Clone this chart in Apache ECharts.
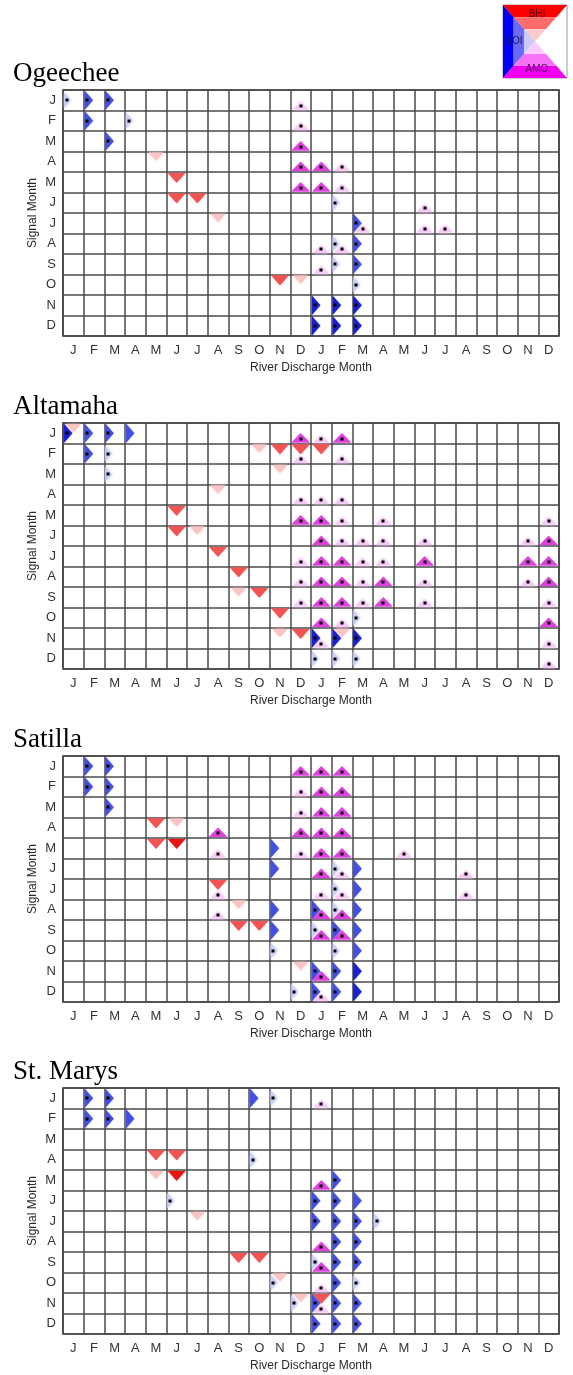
<!DOCTYPE html>
<html>
<head>
<meta charset="utf-8">
<script src="https://cdn.jsdelivr.net/npm/echarts@6/dist/echarts.min.js"></script>
<style>
  html, body { margin: 0; padding: 0; background: #fff; }
  #chart { width: 573px; height: 1375px; }
</style>
</head>
<body>
<div id="chart"></div>
<script>
// month labels
var MONTHS = ['J','F','M','A','M','J','J','A','S','O','N','D'];
var dischargeMonths = MONTHS.concat(MONTHS); // two years of river discharge
var signalMonths = MONTHS;

// index types
var BHI = 0, SOI = 1, AMO = 2;

// each mark: [discharge month index, signal month index, index, strength 1-3, significant dot]
var ogeechee = [
  [0,0,SOI,1,1],[1,0,SOI,2,1],[2,0,SOI,2,1],[11,0,AMO,1,1],
  [1,1,SOI,2,1],[3,1,SOI,1,1],[11,1,AMO,1,1],
  [2,2,SOI,2,1],[11,2,AMO,2,1],
  [4,3,BHI,1,0],[11,3,AMO,2,1],[12,3,AMO,2,1],[13,3,AMO,1,1],
  [5,4,BHI,2,0],[11,4,AMO,2,1],[12,4,AMO,2,1],[13,4,AMO,1,1],
  [5,5,BHI,2,0],[6,5,BHI,2,0],[13,5,SOI,1,1],[17,5,AMO,1,1],
  [7,6,BHI,1,0],[14,6,SOI,2,1],[14,6,AMO,1,1],[17,6,AMO,1,1],[18,6,AMO,1,1],
  [12,7,AMO,1,1],[13,7,SOI,1,1],[13,7,AMO,1,1],[14,7,SOI,2,1],
  [12,8,AMO,1,1],[13,8,SOI,1,1],[14,8,SOI,2,1],
  [10,9,BHI,2,0],[11,9,BHI,1,0],[14,9,SOI,1,1],
  [12,10,SOI,3,1],[13,10,SOI,3,1],[14,10,SOI,3,1],
  [12,11,SOI,3,1],[13,11,SOI,3,1],[14,11,SOI,3,1]
];

var altamaha = [
  [0,0,SOI,3,1],[0,0,BHI,1,0],[1,0,SOI,2,1],[2,0,SOI,2,1],[3,0,SOI,2,0],[11,0,AMO,2,1],[12,0,AMO,1,1],[13,0,AMO,2,1],
  [1,1,SOI,2,1],[2,1,SOI,1,1],[9,1,BHI,1,0],[10,1,BHI,2,0],[11,1,BHI,2,0],[11,1,AMO,1,1],[12,1,BHI,2,0],[13,1,AMO,1,1],
  [2,2,SOI,1,1],[10,2,BHI,1,0],
  [7,3,BHI,1,0],[11,3,AMO,1,1],[12,3,AMO,1,1],[13,3,AMO,1,1],
  [5,4,BHI,2,0],[11,4,AMO,2,1],[12,4,AMO,2,1],[13,4,AMO,1,1],[15,4,AMO,1,1],[23,4,AMO,1,1],
  [5,5,BHI,2,0],[6,5,BHI,1,0],[12,5,AMO,2,1],[13,5,AMO,1,1],[14,5,AMO,1,1],[15,5,AMO,1,1],[17,5,AMO,1,1],[22,5,AMO,1,1],[23,5,AMO,2,1],
  [7,6,BHI,2,0],[11,6,AMO,1,1],[12,6,AMO,2,1],[13,6,AMO,2,1],[14,6,AMO,1,1],[15,6,AMO,1,1],[17,6,AMO,2,1],[22,6,AMO,2,1],[23,6,AMO,2,1],
  [8,7,BHI,2,0],[11,7,AMO,1,1],[12,7,AMO,2,1],[13,7,AMO,2,1],[14,7,AMO,1,1],[15,7,AMO,2,1],[17,7,AMO,1,1],[22,7,AMO,1,1],[23,7,AMO,2,1],
  [8,8,BHI,1,0],[9,8,BHI,2,0],[11,8,AMO,1,1],[12,8,AMO,2,1],[13,8,AMO,2,1],[14,8,AMO,1,1],[15,8,AMO,2,1],[17,8,AMO,1,1],[23,8,AMO,1,1],
  [10,9,BHI,2,0],[12,9,AMO,2,1],[13,9,AMO,1,1],[14,9,SOI,1,1],[23,9,AMO,2,1],
  [10,10,BHI,1,0],[11,10,BHI,2,0],[12,10,SOI,3,1],[12,10,AMO,1,1],[13,10,BHI,1,0],[13,10,SOI,3,1],[14,10,SOI,3,1],[23,10,AMO,1,1],
  [12,11,SOI,1,1],[13,11,SOI,1,1],[14,11,SOI,1,1],[23,11,AMO,1,1]
];

var satilla = [
  [1,0,SOI,2,1],[2,0,SOI,2,1],[11,0,AMO,2,1],[12,0,AMO,2,1],[13,0,AMO,2,1],
  [1,1,SOI,2,1],[2,1,SOI,2,1],[11,1,AMO,1,1],[12,1,AMO,2,1],[13,1,AMO,2,1],
  [2,2,SOI,2,1],[11,2,AMO,1,1],[12,2,AMO,2,1],[13,2,AMO,2,1],
  [4,3,BHI,2,0],[5,3,BHI,1,0],[7,3,AMO,2,1],[11,3,AMO,2,1],[12,3,AMO,2,1],[13,3,AMO,2,1],
  [4,4,BHI,2,0],[5,4,BHI,3,0],[7,4,AMO,1,1],[10,4,SOI,2,0],[11,4,AMO,1,1],[12,4,AMO,2,1],[13,4,AMO,2,1],[16,4,AMO,1,1],
  [10,5,SOI,2,0],[12,5,AMO,2,1],[13,5,SOI,1,1],[13,5,AMO,1,1],[14,5,SOI,2,0],[19,5,AMO,1,1],
  [7,6,BHI,2,0],[7,6,AMO,1,1],[12,6,AMO,1,1],[13,6,SOI,1,1],[13,6,AMO,1,1],[14,6,SOI,2,0],[19,6,AMO,1,1],
  [7,7,AMO,1,1],[8,7,BHI,1,0],[10,7,SOI,2,0],[12,7,SOI,2,1],[12,7,AMO,2,1],[13,7,SOI,1,1],[13,7,AMO,2,1],[14,7,SOI,2,0],
  [8,8,BHI,2,0],[9,8,BHI,2,0],[10,8,SOI,2,0],[12,8,SOI,1,1],[12,8,AMO,2,1],[13,8,SOI,2,1],[13,8,AMO,2,1],[14,8,SOI,2,0],
  [10,9,SOI,1,1],[13,9,SOI,1,1],[14,9,SOI,2,0],
  [11,10,BHI,1,0],[12,10,SOI,2,1],[12,10,AMO,2,1],[13,10,SOI,2,1],[14,10,SOI,3,0],
  [11,11,SOI,1,1],[12,11,SOI,2,1],[12,11,AMO,1,1],[13,11,SOI,2,1],[14,11,SOI,3,0]
];

var stMarys = [
  [1,0,SOI,2,1],[2,0,SOI,2,1],[9,0,SOI,2,0],[10,0,SOI,1,1],[12,0,AMO,1,1],
  [1,1,SOI,2,1],[2,1,SOI,2,1],[3,1,SOI,2,0],
  [4,3,BHI,2,0],[5,3,BHI,2,0],[9,3,SOI,1,1],
  [4,4,BHI,1,0],[5,4,BHI,3,0],[12,4,AMO,2,1],[13,4,SOI,2,1],
  [5,5,SOI,1,1],[12,5,SOI,2,1],[13,5,SOI,2,1],[14,5,SOI,2,0],
  [6,6,BHI,1,0],[12,6,SOI,2,1],[13,6,SOI,2,1],[14,6,SOI,2,1],[15,6,SOI,1,1],
  [12,7,AMO,2,1],[13,7,SOI,2,1],[14,7,SOI,2,1],
  [8,8,BHI,2,0],[9,8,BHI,2,0],[12,8,SOI,1,1],[12,8,AMO,2,1],[13,8,SOI,2,1],[14,8,SOI,2,1],
  [10,9,BHI,1,0],[10,9,SOI,1,1],[12,9,AMO,1,1],[13,9,SOI,2,1],[14,9,SOI,1,1],
  [11,10,BHI,1,0],[11,10,SOI,1,1],[12,10,BHI,2,0],[12,10,SOI,2,1],[12,10,AMO,1,1],[13,10,SOI,2,1],[14,10,SOI,2,1],
  [12,11,SOI,2,1],[13,11,SOI,2,1],[14,11,SOI,2,1]
];

var riverNames = ['Ogeechee', 'Altamaha', 'Satilla', 'St. Marys'];
var riverMarks = [ogeechee, altamaha, satilla, stMarys];
var gridTops = [90, 423, 756, 1088];

// colours per index: light, medium, dark
var COLORS = [];
COLORS[BHI] = ['#f9c4c4', '#f25454', '#e81414'];
COLORS[SOI] = ['#ccd0f8', '#4450e2', '#1a20d2'];
COLORS[AMO] = ['#f5caf5', '#de42de', '#c810c8'];

function renderMark(params, api) {
  var col = api.value(0), row = api.value(1), type = api.value(2);
  var lvl = api.value(3), dot = api.value(4);
  var c = api.coord([col, row]);
  var sz = api.size([1, 1]);
  var w = sz[0], h = sz[1];
  var s = lvl === 1 ? 0.85 : 1;
  var pts, dp;
  if (type === BHI) {
    var top = c[1] - h / 2;
    pts = [[c[0] - 0.42 * w * s, top + 1], [c[0] + 0.42 * w * s, top + 1], [c[0], top + 0.52 * h * s]];
    dp = [c[0], top + 0.25 * h];
  } else if (type === SOI) {
    var left = c[0] - w / 2;
    pts = [[left + 1, c[1] - 0.46 * h * s], [left + 1, c[1] + 0.46 * h * s], [left + 0.45 * w * s, c[1]]];
    dp = [left + 0.18 * w, c[1]];
  } else {
    var bottom = c[1] + h / 2;
    pts = [[c[0] - 0.44 * w * s, bottom - 1], [c[0] + 0.44 * w * s, bottom - 1], [c[0], bottom - 0.5 * h * s]];
    dp = [c[0], bottom - 0.23 * h];
  }
  var color = COLORS[type][lvl - 1];
  var children = [{
    type: 'polygon',
    shape: { points: pts },
    style: { fill: color, shadowBlur: lvl === 1 ? 3 : 1, shadowColor: color }
  }];
  if (dot) {
    children.push({
      type: 'rect',
      shape: { x: Math.round(dp[0]) - 1.5, y: Math.round(dp[1]) - 1.5, width: 3, height: 3 },
      style: { fill: '#000' }
    });
  }
  return { type: 'group', children: children };
}

var titles = [], grids = [], xAxes = [], yAxes = [], series = [];
riverNames.forEach(function (name, i) {
  var top = gridTops[i];
  titles.push({
    text: name, left: 8, top: top - 35,
    textStyle: { fontFamily: 'Liberation Serif', fontSize: 27, fontWeight: 'normal', color: '#000' }
  });
  grids.push({
    left: 63, top: top, width: 496, height: 246,
    show: true, borderColor: '#3a3a3a', borderWidth: 1.6, backgroundColor: '#fff'
  });
  xAxes.push({
    type: 'category', gridIndex: i, data: dischargeMonths,
    name: 'River Discharge Month', nameLocation: 'middle', nameGap: 26, nameMoveOverlap: false,
    nameTextStyle: { fontFamily: 'Liberation Sans', fontSize: 12, color: '#2a2a2a' },
    axisLine: { show: false }, axisTick: { show: false },
    axisLabel: { interval: 0, margin: 8, fontFamily: 'Liberation Sans', fontSize: 13, color: '#333' },
    splitLine: { show: true, interval: 0, lineStyle: { color: '#4a4a4a', width: 1.5 } }
  });
  yAxes.push({
    type: 'category', gridIndex: i, data: signalMonths, inverse: true,
    name: 'Signal Month', nameLocation: 'middle', nameGap: 24, nameRotate: 90, nameMoveOverlap: false,
    nameTextStyle: { fontFamily: 'Liberation Sans', fontSize: 12, color: '#2a2a2a' },
    axisLine: { show: false }, axisTick: { show: false },
    axisLabel: { interval: 0, margin: 7, fontFamily: 'Liberation Sans', fontSize: 13, color: '#333' },
    splitLine: { show: true, interval: 0, lineStyle: { color: '#4a4a4a', width: 1.5 } }
  });
  series.push({
    type: 'custom', xAxisIndex: i, yAxisIndex: i,
    encode: { x: 0, y: 1 },
    renderItem: renderMark,
    data: riverMarks[i],
    silent: true, animation: false
  });
});

// key square in the top right corner
var KEY = { x0: 503, y0: 5, x1: 567, y1: 78 };
var keyColors = [];
keyColors[BHI] = ['#ff0000', '#ff6c6c', '#ffcaca'];
keyColors[SOI] = ['#0000f4', '#6a6af8', '#cacafc'];
keyColors[AMO] = ['#f000f0', '#f872f8', '#fccafc'];
function keyGraphics() {
  var cx = (KEY.x0 + KEY.x1) / 2, cy = (KEY.y0 + KEY.y1) / 2;
  var tris = [
    { t: BHI, a: [KEY.x0, KEY.y0], b: [KEY.x1, KEY.y0] },
    { t: SOI, a: [KEY.x0, KEY.y1], b: [KEY.x0, KEY.y0] },
    { t: AMO, a: [KEY.x1, KEY.y1], b: [KEY.x0, KEY.y1] }
  ];
  var out = [{
    type: 'rect', shape: { x: KEY.x0, y: KEY.y0, width: KEY.x1 - KEY.x0, height: KEY.y1 - KEY.y0 },
    style: { fill: '#fff', stroke: '#999', lineWidth: 1 }
  }];
  function lerp(p, f) { return [p[0] + (cx - p[0]) * f, p[1] + (cy - p[1]) * f]; }
  tris.forEach(function (tr) {
    for (var k = 0; k < 3; k++) {
      var f0 = k / 3, f1 = (k + 1) / 3;
      out.push({
        type: 'polygon',
        shape: { points: [lerp(tr.a, f0), lerp(tr.b, f0), lerp(tr.b, f1), lerp(tr.a, f1)] },
        style: { fill: keyColors[tr.t][k] }
      });
    }
  });
  var ts = { fontFamily: 'Liberation Sans', fontSize: 10, align: 'center', verticalAlign: 'middle' };
  out.push({ type: 'text', x: cx + 2, y: KEY.y0 + 9, style: Object.assign({ text: 'BHI', fill: '#5a0a0a' }, ts) });
  out.push({ type: 'text', x: KEY.x0 + 11, y: cy, style: Object.assign({ text: 'SOI', fill: '#1a1a50' }, ts) });
  out.push({ type: 'text', x: cx + 2, y: KEY.y1 - 9, style: Object.assign({ text: 'AMO', fill: '#500050' }, ts) });
  return out;
}

var chart = echarts.init(document.getElementById('chart'), null, { renderer: 'canvas' });
chart.setOption({
  animation: false,
  backgroundColor: '#fff',
  title: titles,
  grid: grids,
  xAxis: xAxes,
  yAxis: yAxes,
  series: series,
  graphic: keyGraphics()
});
</script>
</body>
</html>
